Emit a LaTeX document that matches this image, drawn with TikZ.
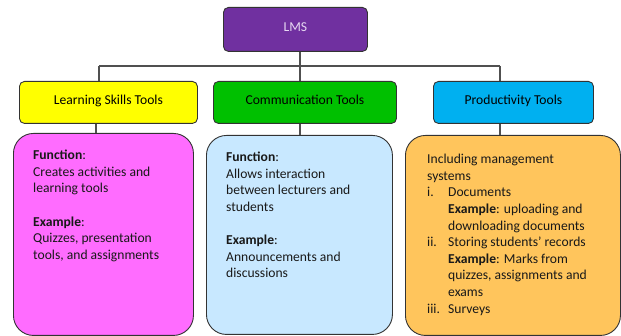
\documentclass[tikz,border=0pt]{standalone}
\usepackage{fontspec}
\setmainfont{Carlito}
\definecolor{lmspurple}{HTML}{7030A0}
\definecolor{lmstext}{HTML}{E6D8F2}
\definecolor{ylw}{HTML}{FFFF00}
\definecolor{grn}{HTML}{00C000}
\definecolor{cyn}{HTML}{00B0F0}
\definecolor{pnk}{HTML}{FF6CFF}
\definecolor{lblue}{HTML}{C8E8FF}
\definecolor{orng}{HTML}{FFC55C}
\definecolor{edge}{HTML}{333333}
\definecolor{conn}{HTML}{505050}
\begin{document}
\begin{tikzpicture}[x=1pt,y=1pt,
  topbox/.style={draw=edge, line width=0.9pt, rounded corners=5pt, anchor=north west, inner sep=0pt},
  bigbox/.style={draw=edge, line width=0.9pt, rounded corners=20pt, anchor=north west, inner sep=0pt},
  labeltext/.style={font=\fontsize{13.6}{15}\selectfont},
  bodytext/.style={anchor=north west, inner sep=0pt, align=left, font=\fontsize{13.6}{16.6}\selectfont, text=black!90},
  connector/.style={draw=conn, line width=1.1pt}]
\useasboundingbox (0,0) rectangle (621,-336);
% top
\node[topbox, fill=lmspurple, minimum width=144pt, minimum height=44pt, text=lmstext, labeltext] (lms) at (223,-7) {\raisebox{4pt}{LMS}};
% level 2
\node[topbox, fill=ylw, minimum width=178pt, minimum height=42pt, labeltext] (l1) at (19,-81) {\raisebox{5pt}{Learning Skills Tools}};
\node[topbox, fill=grn, minimum width=183pt, minimum height=42pt, labeltext] (l2) at (213,-81) {\raisebox{5pt}{Communication Tools}};
\node[topbox, fill=cyn, minimum width=160pt, minimum height=42pt, labeltext] (l3) at (433,-81) {\raisebox{5pt}{Productivity Tools}};
% big boxes
\node[bigbox, fill=pnk, minimum width=180pt, minimum height=202pt] (b1) at (13,-133) {};
\node[bigbox, fill=lblue, minimum width=186pt, minimum height=199pt] (b2) at (206,-135) {};
\node[bigbox, fill=orng, minimum width=215pt, minimum height=200pt] (b3) at (405,-135) {};
% texts
\node[bodytext] (t1) at (33,-150) {\textbf{Function}:\\Creates activities and\\learning tools\\[16.6pt]\textbf{Example}:\\Quizzes, presentation\\tools, and assignments};
\node[bodytext] (t2) at (226,-152) {\textbf{Function}:\\Allows interaction\\between lecturers and\\students\\[16.6pt]\textbf{Example}:\\Announcements and\\discussions};
\node[bodytext] (t3) at (427,-154) {Including management\\systems\\
\makebox[21pt][l]{i.}Documents\\
\hspace*{21pt}\textbf{Example}: uploading and\\
\hspace*{21pt}downloading documents\\
\makebox[21pt][l]{ii.}Storing students’ records\\
\hspace*{21pt}\textbf{Example}: Marks from\\
\hspace*{21pt}quizzes, assignments and\\
\hspace*{21pt}exams\\
\makebox[21pt][l]{iii.}Surveys};
% connectors
\coordinate (c1) at (99,-66);
\coordinate (c2) at (300,-66);
\coordinate (c3) at (500,-66);
\coordinate (d1) at (96,0);
\coordinate (d2) at (300,0);
\coordinate (d3) at (500,0);
\draw[connector] (lms.south -| c2) -- (c2);
\draw[connector] (c1) -- (c3);
\draw[connector] (c1) -- (l1.north -| c1);
\draw[connector] (c2) -- (l2.north -| c2);
\draw[connector] (c3) -- (l3.north -| c3);
\draw[connector] (l1.south -| d1) -- (b1.north -| d1);
\draw[connector] (l2.south -| d2) -- (b2.north -| d2);
\draw[connector] (l3.south -| d3) -- (b3.north -| d3);
\end{tikzpicture}
\end{document}
